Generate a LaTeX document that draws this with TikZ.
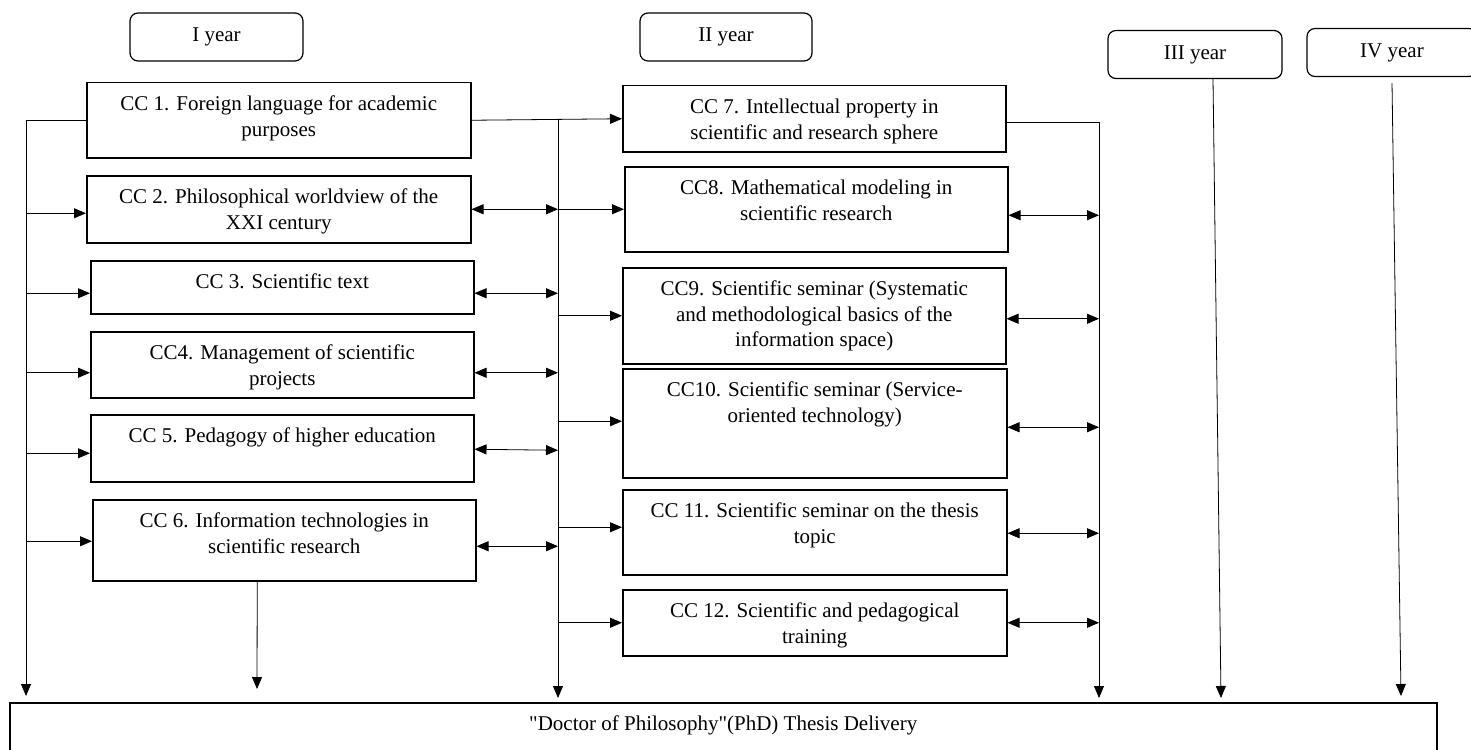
\documentclass[tikz,border=0pt]{standalone}
\usepackage{fontspec}
\setmainfont{Liberation Serif}[Ligatures=TeXOff]
\usetikzlibrary{arrows.meta}

% text of a course box, set from the top of the box
\newcommand{\cctext}[3]{\parbox[t][#2][t]{#1}{\centering\rule{0pt}{28pt}#3}}

\tikzset{
  ccbox/.style={draw, line width=1.5pt, inner sep=0pt, anchor=north west},
  yearbox/.style={draw, rounded corners=8pt, line width=1.2pt, minimum height=48pt},
  link/.style={line width=0.8pt},
  arr/.style={link, arrows={-{Triangle[length=12pt,width=10pt]}}},
  darr/.style={link, arrows={{Triangle[length=12pt,width=10pt]}-{Triangle[length=12pt,width=10pt]}}}
}

\begin{document}
\begin{tikzpicture}[x=1pt, y=-1pt, font=\fontsize{21}{25.5}\selectfont]
			\useasboundingbox (0,0) rectangle (1471,749);
			
			% years
			\node[yearbox, minimum width=173pt] (y1) at (216.5,37) {I year};
			\node[yearbox, minimum width=172pt] (y2) at (726,37) {II year};
			\node[yearbox, minimum width=174pt] (y3) at (1195,54.5) {III year};
			\node[yearbox, minimum width=170pt] (y4) at (1392,52.5) {IV year};
			
			% first year courses
			\node[ccbox] (cc1) at (86,82) {\cctext{384pt}{75pt}{CC 1. Foreign language for academic\\purposes}};
			\node[ccbox] (cc2) at (86,175) {\cctext{384pt}{67pt}{CC 2. Philosophical worldview of the\\XXI century}};
			\node[ccbox] (cc3) at (90,260) {\cctext{383pt}{53pt}{CC 3. Scientific text}};
			\node[ccbox] (cc4) at (90,331) {\cctext{383pt}{66pt}{CC4. Management of scientific\\projects}};
			\node[ccbox] (cc5) at (90,414) {\cctext{383pt}{67pt}{CC 5. Pedagogy of higher education}};
			\node[ccbox] (cc6) at (92,499) {\cctext{383pt}{81pt}{CC 6. Information technologies in\\scientific research}};
			
			% second year courses
			\node[ccbox] (cc7) at (622,85) {\cctext{383pt}{66pt}{CC 7. Intellectual property in\\scientific and research sphere}};
			\node[ccbox] (cc8) at (624,166) {\cctext{383pt}{85pt}{CC8. Mathematical modeling in\\scientific research}};
			\node[ccbox] (cc9) at (622,267) {\cctext{383pt}{96pt}{CC9. Scientific seminar (Systematic\\and methodological basics of the\\information space)}};
			\node[ccbox] (cc10) at (622,368) {\cctext{384pt}{109pt}{CC10. Scientific seminar (Service-\\oriented technology)}};
			\node[ccbox] (cc11) at (622,489) {\cctext{384pt}{85pt}{CC 11. Scientific seminar on the thesis\\topic}};
			\node[ccbox] (cc12) at (622,589) {\cctext{384pt}{66pt}{CC 12. Scientific and pedagogical\\training}};
			
			% thesis
			\node[ccbox] (phd) at (9,702) {\cctext{1427pt}{52pt}{"Doctor of Philosophy"(PhD) Thesis Delivery}};
			
			% ends of the lines
			\coordinate (lEnd) at (26,696);
			\coordinate (mTop) at (558,120);
			\coordinate (mEnd) at (558,698);
			\coordinate (rEnd) at (1099,698);
			\coordinate (t6) at (257,689);
			\coordinate (t3) at (1221,698);
			\coordinate (t4) at (1401,696);
			
			% left line
			\draw[arr] (cc1.west) -| (lEnd);
			\draw[arr] ([yshift=-4pt]lEnd |- cc2.west) -- ([yshift=-4pt]cc2.west);
			\draw[arr] ([yshift=-6pt]lEnd |- cc3.west) -- ([yshift=-6pt]cc3.west);
			\draw[arr] ([yshift=-8pt]lEnd |- cc4.west) -- ([yshift=-8pt]cc4.west);
			\draw[arr] ([yshift=-5pt]lEnd |- cc5.west) -- ([yshift=-5pt]cc5.west);
			\draw[arr] ([yshift=-1pt]lEnd |- cc6.west) -- ([yshift=-1pt]cc6.west);
			\draw[arr] ([xshift=-27pt]cc6.south) -- (t6);
			
			% middle line
			\draw[arr] (cc1.east) -- (cc7.west);
			\draw[arr] (mTop) -- (mEnd);
			\draw[darr] (cc2.east) -- (cc2.east -| mEnd);
			\draw[darr] ([yshift=-6pt]cc3.east) -- ([yshift=-6pt]cc3.east -| mEnd);
			\draw[darr] ([yshift=-8pt]cc4.east) -- ([yshift=-8pt]cc4.east -| mEnd);
			\draw[darr] ([yshift=-1pt]cc5.east) -- ([yshift=-2pt]cc5.east -| mEnd);
			\draw[darr] ([yshift=-6pt]cc6.east) -- ([yshift=-6pt]cc6.east -| mEnd);
			\draw[arr] (mEnd |- cc8.west) -- (cc8.west);
			\draw[arr] (mEnd |- cc9.west) -- (cc9.west);
			\draw[arr] ([yshift=2pt]mEnd |- cc10.west) -- ([yshift=2pt]cc10.west);
			\draw[arr] ([yshift=5pt]mEnd |- cc11.west) -- ([yshift=5pt]cc11.west);
			\draw[arr] (mEnd |- cc12.west) -- (cc12.west);
			
			% right line
			\draw[arr] ([yshift=-4pt]cc7.east) -| (rEnd);
			\draw[darr] ([yshift=-6pt]cc8.east) -- ([yshift=-6pt]cc8.east -| rEnd);
			\draw[darr] ([yshift=-3pt]cc9.east) -- ([yshift=-3pt]cc9.east -| rEnd);
			\draw[darr] ([yshift=-4pt]cc10.east) -- ([yshift=-4pt]cc10.east -| rEnd);
			\draw[darr] ([yshift=-1pt]cc11.east) -- ([yshift=-1pt]cc11.east -| rEnd);
			\draw[darr] (cc12.east) -- (cc12.east -| rEnd);
			
			% third and fourth year
			\draw[arr] ([xshift=18pt]y3.south) -- (t3);
			\draw[arr] ([yshift=-6pt]y4.south) -- (t4);
		\end{tikzpicture}
\end{document}
